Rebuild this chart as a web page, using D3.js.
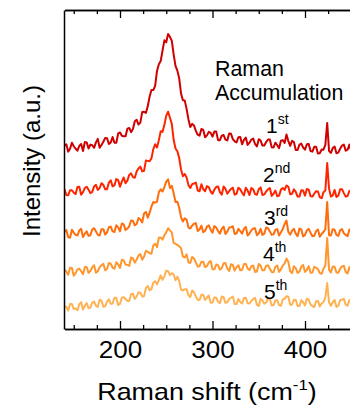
<!DOCTYPE html>
<html><head><meta charset="utf-8">
<script src="https://cdn.jsdelivr.net/npm/d3@7"></script>
<style>
body{margin:0;background:#fff}
svg{display:block}
text{font-family:"Liberation Sans",Arial,sans-serif;fill:#000}
</style>
</head><body>
<svg id="c" width="350" height="406"></svg>
<script>
// Raman shift grid (cm^-1)
const shifts = [140,142,144,146,148,150,152,154,156,158,160,162,164,166,168,170,172,174,176,178,180,182,184,186,188,190,192,194,196,198,200,202,204,206,208,210,212,214,216,218,220,222,224,226,228,230,232,234,236,238,240,242,244,246,248,250,252,254,256,258,260,262,264,266,268,270,272,274,276,278,280,282,284,286,288,290,292,294,296,298,300,302,304,306,308,310,312,314,316,318,320,322,324,326,328,330,332,334,336,338,340,342,344,346,348,350,352,354,356,358,360,362,364,366,368,370,372,374,376,378,380,382,384,386,388,390,392,394,396,398,400,402,404,406,408,410,412,414,416,418,420,422,424,426,428,430,432,434,436,438,440,442,444,446,448,450,452,454,456,458,460];

const acc1 = [57.5,57.9,55.6,56.5,58.4,57.3,56.5,55.9,57.4,58.0,55.8,58.6,58.5,56.6,57.8,57.6,56.8,58.5,59.6,56.8,57.7,58.7,59.9,59.8,58.0,58.5,60.2,58.4,58.4,61.3,61.6,60.6,60.4,60.4,62.8,63.0,61.7,62.7,65.1,65.6,64.1,64.7,68.0,68.1,67.7,69.8,72.8,74.9,74.9,76.2,80.9,83.0,84.0,87.3,90.5,89.9,92.5,91.6,90.3,86.1,82.5,81.0,78.6,73.8,71.7,71.6,69.0,65.7,63.3,64.3,63.8,62.1,60.9,60.6,62.7,62.4,60.1,60.7,61.8,61.5,60.3,61.9,61.9,59.2,59.2,60.6,60.8,59.4,59.1,61.3,61.2,59.5,58.8,58.5,60.1,60.2,57.9,59.3,60.0,57.7,58.4,59.4,59.7,58.0,57.2,59.5,59.1,57.5,57.5,58.6,59.4,59.4,57.0,56.9,58.4,57.6,56.7,59.0,59.2,58.3,61.0,58.9,57.4,59.0,58.6,56.1,56.1,57.8,58.1,56.9,56.2,57.9,58.0,55.8,55.6,57.1,57.1,55.0,55.1,56.3,56.2,57.7,64.6,55.8,55.2,56.7,57.2,55.1,55.3,56.5,57.5,57.8,55.9,56.2,57.8,55.7,55.8,57.7,57.8,56.9,56.7];
const acc2 = [43.9,42.0,41.9,43.5,43.5,42.7,42.3,44.5,44.6,42.1,42.9,44.2,44.6,43.7,42.6,43.0,44.7,45.2,43.6,44.2,45.7,45.2,43.8,43.8,45.9,46.6,44.7,45.0,47.0,46.7,44.6,46.2,47.5,45.7,46.5,48.3,48.8,47.6,47.4,49.4,50.3,50.9,49.4,49.6,52.8,52.7,52.6,53.5,56.4,57.9,56.9,59.2,62.0,61.8,64.0,66.9,68.1,66.2,64.3,59.3,56.6,55.7,53.6,50.0,47.9,48.6,47.5,45.1,44.2,45.4,45.6,45.9,43.4,43.2,45.4,43.8,43.2,44.8,44.5,43.1,42.4,43.7,44.5,44.7,42.9,42.1,44.7,43.9,42.4,43.2,43.9,44.3,42.1,42.4,44.3,43.8,42.7,41.9,44.3,43.4,42.0,44.2,43.8,42.3,42.1,43.8,44.4,42.0,42.2,43.1,43.8,44.2,41.7,42.4,43.4,41.6,41.8,43.7,44.2,43.6,45.0,44.6,42.2,42.4,43.8,43.0,41.5,41.5,43.5,43.4,41.8,43.9,43.7,41.6,41.5,42.4,43.2,43.1,41.3,41.0,42.9,43.4,52.0,44.0,41.5,41.9,43.6,41.4,41.8,43.8,43.8,42.6,41.5,41.7,43.3,43.4,41.9,42.2,43.6,43.9,42.1];
const acc3 = [30.5,31.0,28.8,28.6,31.1,30.2,29.5,29.3,30.9,31.4,28.8,29.9,30.6,29.2,29.4,31.2,31.6,30.6,29.5,29.3,31.3,31.3,29.6,30.3,31.9,32.1,30.6,30.4,32.5,31.9,30.6,33.1,32.8,31.0,31.5,32.2,34.0,33.9,32.5,32.9,34.8,34.3,33.4,36.2,36.7,34.9,36.4,38.4,39.8,39.6,39.9,42.9,43.8,43.1,44.5,46.2,46.9,44.2,44.9,42.6,39.8,39.9,38.0,35.1,33.7,34.7,34.3,31.8,31.5,32.4,33.0,33.2,30.7,31.2,32.4,30.3,30.8,32.1,32.5,31.2,30.2,32.3,31.8,30.7,29.9,31.4,32.1,29.8,30.5,31.8,31.9,32.2,29.8,30.0,31.4,30.7,29.9,31.4,32.0,29.3,30.0,30.9,31.5,31.6,29.4,30.0,31.4,29.5,29.9,31.8,31.6,30.6,29.5,29.7,31.1,31.3,29.3,30.3,31.4,32.9,34.0,30.4,29.6,30.8,31.4,29.9,29.1,31.5,31.2,29.0,29.5,30.9,31.4,30.2,29.1,29.2,30.7,31.2,28.9,29.8,30.4,31.3,39.8,29.4,29.3,31.3,31.1,29.5,29.2,30.9,31.3,30.0,29.5,29.1,31.2,31.2,29.1,29.8,31.0,30.8,30.0];
const acc4 = [18.6,18.0,17.0,19.2,19.1,16.7,17.5,18.7,18.9,18.1,17.2,19.4,19.4,17.6,18.2,19.3,20.0,17.6,18.1,19.4,20.0,20.4,18.4,18.8,20.7,20.5,19.2,18.9,20.9,20.3,19.1,21.7,21.5,20.2,20.1,19.8,22.4,22.1,20.8,21.8,23.0,23.5,21.7,22.7,24.5,24.2,23.8,23.6,26.2,26.7,25.7,28.6,28.7,28.0,29.4,30.3,31.6,30.9,30.3,27.0,26.7,26.4,25.9,25.3,22.7,22.4,23.4,20.9,20.7,22.6,22.1,20.9,19.6,19.7,21.1,21.1,19.4,19.7,20.9,21.3,18.7,18.7,20.2,20.0,18.6,19.1,20.6,20.7,18.9,18.2,20.3,20.1,18.3,19.4,20.0,18.4,18.5,20.4,20.4,19.0,18.5,19.7,19.9,17.9,18.0,20.4,19.9,18.4,18.4,19.8,20.0,18.9,17.9,17.8,19.5,19.9,17.9,18.7,19.9,20.6,22.1,21.0,18.1,17.5,19.7,19.1,17.6,18.0,19.5,20.1,17.9,18.5,19.7,17.6,17.7,19.5,19.2,18.8,17.5,17.3,18.9,19.9,28.5,18.6,17.7,19.6,19.5,17.7,17.6,18.9,19.6,19.8,17.9,17.4,19.4,18.2,17.5,19.4,19.2,17.9,18.2];
const acc5 = [7.3,6.9,5.8,7.8,7.8,6.3,6.4,5.9,7.8,8.4,6.1,7.3,8.1,6.5,6.7,8.3,8.6,7.3,6.9,9.2,8.8,7.0,7.1,8.6,9.3,7.9,8.0,9.8,9.8,7.5,7.9,9.8,10.0,9.4,8.8,8.8,10.9,11.1,9.4,10.2,11.5,11.4,10.2,10.3,12.8,13.5,12.1,12.5,14.5,15.0,14.0,15.3,16.8,15.4,16.5,18.3,18.1,16.9,17.5,17.1,15.3,16.4,15.1,12.3,12.1,12.5,12.5,10.6,10.0,12.1,11.5,10.2,9.2,9.1,10.7,10.7,9.1,9.8,10.5,8.2,8.3,9.9,9.8,8.6,8.1,10.2,10.0,8.2,8.4,9.4,9.8,10.2,7.8,7.8,9.4,8.5,8.0,9.7,9.8,8.1,8.0,8.8,9.4,9.8,7.6,7.2,9.4,9.0,7.9,8.3,9.5,9.5,7.4,7.5,9.0,9.0,7.5,7.3,9.3,9.5,10.3,10.1,7.6,7.6,9.2,9.1,7.2,7.2,9.0,8.4,7.4,9.5,9.2,7.7,7.2,6.9,8.7,8.8,7.1,8.0,8.5,9.9,14.4,8.3,7.3,8.4,9.1,6.9,7.3,9.0,9.2,9.5,7.6,7.3,9.1,8.1,7.2,8.8,8.9,6.8,7.9];

const seriesList = [acc1, acc2, acc3, acc4, acc5];
const ordinals = ["1","2","3","4","5"];
const suffixes = ["st","nd","rd","th","th"];
const majorTicks = [200, 300, 400];
const minorTicks = [150, 175, 225, 250, 275, 325, 350, 375, 425, 450];

const colors = ["#d00000", "#ff2400", "#ff6e0c", "#ff972e", "#ffb252"];

const svg = d3.select("#c");
const L = 64, T = 10, B = 329;
const x = d3.scaleLinear().domain([140, 460]).range([L + 0.5, L + 0.5 + 320 * 0.925]);
const y = d3.scaleLinear().domain([0, 100]).range([B, T]);

svg.append("defs").append("clipPath").attr("id", "clip")
  .append("rect").attr("x", L).attr("y", T).attr("width", 400).attr("height", B - T);

const line = d3.line().x((d, i) => x(shifts[i])).y(d => y(d));
const g = svg.append("g").attr("clip-path", "url(#clip)");
seriesList.forEach((s, k) => {
  g.append("path").datum(s).attr("d", line)
    .attr("fill", "none").attr("stroke", colors[k])
    .attr("stroke-width", 2).attr("stroke-linejoin", "round");
});

function styleAxis(sel) {
  sel.selectAll("path.domain").attr("stroke", "#000").attr("stroke-width", 1.5);
  sel.selectAll(".tick line").attr("stroke", "#000").attr("stroke-width", 1.3);
}

// bottom axis
const bMaj = svg.append("g").attr("transform", `translate(0,${B})`)
  .call(d3.axisBottom(x).tickValues(majorTicks).tickSizeInner(-8).tickSizeOuter(0).tickPadding(13));
bMaj.selectAll("text").attr("font-size", 23).attr("fill", "#000")
  .attr("font-family", '"Liberation Sans",Arial,sans-serif')
  .attr("transform", "scale(1.13,1)");
styleAxis(bMaj);
const bMin = svg.append("g").attr("transform", `translate(0,${B})`)
  .call(d3.axisBottom(x).tickValues(minorTicks).tickSizeInner(-4).tickSizeOuter(0).tickFormat(""));
styleAxis(bMin);

// top axis
const tMaj = svg.append("g").attr("transform", `translate(0,${T})`)
  .call(d3.axisTop(x).tickValues(majorTicks).tickSizeInner(-8).tickSizeOuter(0).tickFormat(""));
styleAxis(tMaj);
const tMin = svg.append("g").attr("transform", `translate(0,${T})`)
  .call(d3.axisTop(x).tickValues(minorTicks).tickSizeInner(-4).tickSizeOuter(0).tickFormat(""));
styleAxis(tMin);

// left axis (no ticks)
const lAx = svg.append("g").attr("transform", `translate(${L},0)`)
  .call(d3.axisLeft(y).tickValues([]).tickSizeOuter(0));
styleAxis(lAx);

// axis titles
const xt = svg.append("text").attr("transform", "translate(207,400) scale(1.12,1)")
  .attr("text-anchor", "middle").attr("font-size", 24);
xt.append("tspan").text("Raman shift (cm");
xt.append("tspan").attr("font-size", 15).attr("dy", -10).text("-1");
xt.append("tspan").attr("dy", 10).text(")");

svg.append("text").attr("transform", "translate(40,161) rotate(-90)")
  .attr("text-anchor", "middle").attr("font-size", 24).text("Intensity (a.u.)");

// annotation
svg.append("text").attr("x", 215).attr("y", 75.5).attr("font-size", 21.4).text("Raman");
svg.append("text").attr("x", 215).attr("y", 99.5).attr("font-size", 21.4).text("Accumulation");

const labelPos = [[266,133],[263,181.5],[264,225],[263,260.5],[264,298.5]];
ordinals.forEach((o, k) => {
  const t = svg.append("text").attr("x", labelPos[k][0]).attr("y", labelPos[k][1]).attr("font-size", 21);
  t.append("tspan").text(o);
  t.append("tspan").attr("font-size", 14).attr("dy", -9).text(suffixes[k]);
});
</script>
</body></html>
